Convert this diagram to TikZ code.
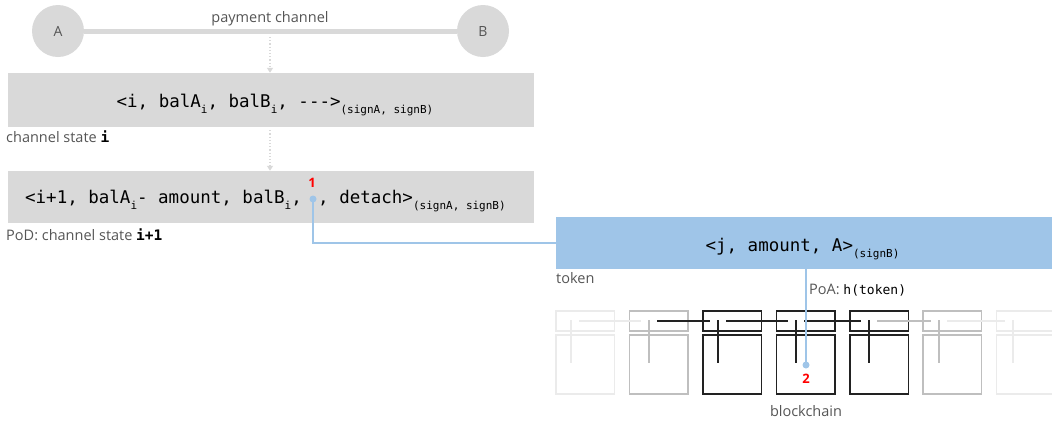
\documentclass[tikz,border=0pt]{standalone}
\usepackage{fontspec}
\setmainfont{Open Sans}
\setmonofont{DejaVu Sans Mono}
\usetikzlibrary{arrows.meta,calc}
\definecolor{chan}{HTML}{D9D9D9}
\definecolor{tokblue}{HTML}{9FC5E8}
\definecolor{labelgray}{HTML}{555555}
\definecolor{blkdark}{HTML}{222222}
\definecolor{blkmid}{HTML}{BFBFBF}
\definecolor{blklight}{HTML}{EBEBEB}
% lowered small text used for indices and signatures
\newcommand\subtxt[1]{\raisebox{-6pt}{\fontsize{11}{11}\selectfont #1}}

\begin{document}
\begin{tikzpicture}[x=1pt,y=-1pt,
  party/.style={circle, fill=chan, minimum size=52pt, inner sep=0pt,
    font=\fontsize{14}{14}\selectfont, text=labelgray},
  statebox/.style={fill=chan, minimum width=526pt, inner sep=0pt},
  tokenbox/.style={fill=tokblue, minimum width=496pt, minimum height=52pt, inner sep=0pt},
  code/.style={font=\ttfamily\fontsize{17.5}{17.5}\selectfont, inner sep=0pt, text=black},
  caption/.style={font=\fontsize{14.5}{14.5}\selectfont, text=labelgray, inner sep=0pt},
  marker/.style={font=\bfseries\fontsize{13}{13}\selectfont, text=red, inner sep=0pt},
  linkdot/.style={circle, fill=tokblue, minimum size=7pt, inner sep=0pt},
  link/.style={draw=tokblue, line width=1.5pt},
  flow/.style={draw=chan, line width=1.2pt, dash pattern=on 1.2pt off 2pt,
    -{Triangle[width=6pt,length=5pt]}},
  hdr/.style={draw=#1, line width=1.3pt, minimum width=58.5pt, minimum height=20pt, inner sep=0pt},
  bdy/.style={draw=#1, line width=1.3pt, minimum width=58.5pt, minimum height=59pt, inner sep=0pt},
  ptr/.style={draw=#1, line width=1.3pt},
]
\useasboundingbox (0,0) rectangle (1052,424);

% payment channel between A and B
\node[party] (A) at (58,31) {A};
\node[party] (B) at (483,31) {B};
\draw[draw=chan, line width=5pt] (A) -- (B);
\node[caption, anchor=base] (pclabel) at (270,22) {payment channel};
\coordinate (pcmid) at (270,37);

% channel state i
\node[statebox, minimum height=54pt] (s1) at (271,100) {};
\node[code, anchor=base] (s1text) at (275,107)
  {<i, balA\subtxt{i}, balB\subtxt{i}, -{}-{}->\subtxt{(signA, signB)}};
\node[caption, anchor=base west] (cs1) at (6,142) {channel state \texttt{\bfseries\color{black}i}};

% channel state i+1 (proof of detachment)
\node[statebox, minimum height=52pt] (s2) at (271,197) {};
\node[code, anchor=base east] (s2left) at (302,203)
  {<i+1, balA\subtxt{i}- amount, balB\subtxt{i},};
\node[linkdot] (pod) at (313,199) {};
\node[code, anchor=base west] (s2right) at (318,203)
  {, detach>\subtxt{(signA, signB)}};
\node[marker] (m1) at (312,183) {1};
\node[caption, anchor=base west] (cs2) at (6,240) {PoD: channel state \texttt{\bfseries\color{black}i+1}};

\draw[flow] (pcmid) -- (pcmid |- s1.north);
\draw[flow] ([yshift=-3pt]s1.south -| pcmid) -- (pcmid |- s2.north);

% token
\node[tokenbox] (tok) at (804,243) {};
\node[code, anchor=base] (toktext) at (802.5,251) {<j, amount, A>\subtxt{(signB)}};
\node[caption, anchor=base west] (toklabel) at (556,283) {token};
\draw[link] (pod.center) |- (tok.west);

% blockchain
\foreach \i/\x/\v/\c in {1/556/571/blklight, 2/629.5/649/blkmid, 3/703/718/blkdark,
    4/776.5/796/blkdark, 5/850/869/blkdark, 6/923/939/blkmid, 7/996.5/1013/blklight} {
  \node[hdr=\c] (h\i) at (\x+29.25,321) {};
  \node[bdy=\c] (b\i) at (\x+29.25,364.5) {};
  \coordinate (v\i) at (\v,321);
  \draw[ptr=\c] ([yshift=1pt]v\i) -- ++(0,43);
}
\foreach \a/\b/\c in {1/2/blklight, 2/3/blkdark, 3/4/blkdark, 4/5/blkdark, 5/6/blkmid, 6/7/blklight}
  \draw[ptr=\c] ([xshift=8pt]v\a) -- ([xshift=-8pt]v\b);
\node[caption, anchor=base] (bclabel) at (806,416) {blockchain};

% proof of anchoring
\node[linkdot] (poadot) at (806,365) {};
\draw[link] (tok.south -| poadot) -- (poadot.center);
\node[caption, anchor=base west] (poa) at (809,294) {PoA: \texttt{\color{black}\fontsize{13}{13}\selectfont h(token)}};
\node[marker] (m2) at (806,379) {2};
\end{tikzpicture}
\end{document}
